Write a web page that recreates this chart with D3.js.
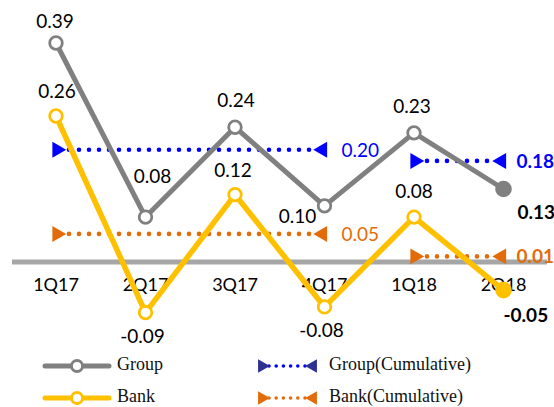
<!DOCTYPE html>
<html>
<head>
<meta charset="utf-8">
<script src="https://cdn.jsdelivr.net/npm/d3@7"></script>
<style>
  html, body { margin: 0; padding: 0; background: #fff; }
  svg { display: block; }
  .lbl { font-family: Lato, "Noto Sans", sans-serif; font-size: 19px; fill: #000; }
  .cat { font-family: Lato, "Noto Sans", sans-serif; font-size: 18px; fill: #000; }
  .leg { font-family: "Liberation Serif", "Times New Roman", serif; font-size: 18px; fill: #111; }
</style>
</head>
<body>
<svg id="chart" width="554" height="407"></svg>
<script>
// Quarterly values
const quarters = ["1Q17", "2Q17", "3Q17", "4Q17", "1Q18", "2Q18"];
const groupValues = [0.39, 0.08, 0.24, 0.10, 0.23, 0.13];
const bankValues = [0.26, -0.09, 0.12, -0.08, 0.08, -0.05];

// Cumulative averages: [from quarter, to quarter, value]
const groupCumulative = [["1Q17", "4Q17", 0.20], ["1Q18", "2Q18", 0.18]];
const bankCumulative = [["1Q17", "4Q17", 0.05], ["1Q18", "2Q18", 0.01]];

const legendLabels = ["Group", "Bank", "Group(Cumulative)", "Bank(Cumulative)"];

const COLORS = {
  group: "#808080",
  bank: "#ffc000",
  groupCum: "#0000ff",
  groupCumLegend: "#2e3192",
  bankCum: "#e36c0a",
  axis: "#a6a6a6"
};

const svg = d3.select("#chart");

const x = d3.scalePoint().domain(quarters).range([56, 503.5]);
const y = d3.scaleLinear().domain([0, 0.39]).range([262, 43]);

// Zero baseline
svg.append("line")
  .attr("x1", 12).attr("x2", 547)
  .attr("y1", y(0)).attr("y2", y(0))
  .attr("stroke", COLORS.axis).attr("stroke-width", 5);

// Category labels
svg.append("g").selectAll("text")
  .data(quarters)
  .join("text")
  .attr("class", "cat")
  .attr("x", d => x(d))
  .attr("y", 291)
  .attr("text-anchor", "middle")
  .text(d => d);

const tri = (size) => d3.symbol().type(d3.symbolTriangle).size(size)();

// Cumulative dotted segments with triangle ends
function drawCumulative(data, color, labelColor, boldLast) {
  const g = svg.append("g");
  data.forEach((seg, i) => {
    const x1 = x(seg[0]), x2 = x(seg[1]), yy = y(seg[2]);
    g.append("line")
      .attr("x1", x1 + 13).attr("x2", x2 - 10)
      .attr("y1", yy).attr("y2", yy)
      .attr("stroke", color)
      .attr("stroke-width", 4.6)
      .attr("stroke-linecap", "round")
      .attr("stroke-dasharray", "0,10");
    g.append("path")
      .attr("d", tri(110))
      .attr("transform", `translate(${x1 + 1},${yy}) rotate(90)`)
      .attr("fill", color);
    g.append("path")
      .attr("d", tri(110))
      .attr("transform", `translate(${x2 - 2},${yy}) rotate(-90)`)
      .attr("fill", color);
    const last = i === data.length - 1;
    g.append("text")
      .attr("class", "lbl")
      .attr("x", last ? x2 + 13 : x2 + 17)
      .attr("y", yy + 7)
      .style("fill", labelColor)
      .attr("font-weight", last && boldLast ? "bold" : null)
      .text(seg[2].toFixed(2));
  });
}

drawCumulative(groupCumulative, COLORS.groupCum, COLORS.groupCum, true);
drawCumulative(bankCumulative, COLORS.bankCum, COLORS.bankCum, true);

// Lines
const line = d3.line().x((d, i) => x(quarters[i])).y(d => y(d));

function drawSeries(values, color, width) {
  const g = svg.append("g");
  g.append("path")
    .attr("d", line(values))
    .attr("fill", "none")
    .attr("stroke", color)
    .attr("stroke-width", width)
    .attr("stroke-linejoin", "round");
  g.selectAll("circle")
    .data(values)
    .join("circle")
    .attr("cx", (d, i) => x(quarters[i]))
    .attr("cy", d => y(d))
    .attr("r", (d, i) => i === values.length - 1 ? 8.3 : 6.3)
    .attr("fill", (d, i) => i === values.length - 1 ? color : "#fff")
    .attr("stroke", color)
    .attr("stroke-width", (d, i) => i === values.length - 1 ? 0 : 2.8);
}

drawSeries(groupValues, COLORS.group, 5);
drawSeries(bankValues, COLORS.bank, 5.5);

// Point labels: offsets from each point [dx, dy, anchor]
const groupLabelOffsets = [[-1, -15, "middle"], [7, -34, "middle"], [1, -20, "middle"], [-27, 17, "middle"], [-2, -20, "middle"], [14, 30, "start"]];
const bankLabelOffsets = [[1, -18, "middle"], [-3, 30, "middle"], [-2, -18, "middle"], [-3, 30, "middle"], [0, -19, "middle"], [0, 32, "start"]];

function drawLabels(values, offsets) {
  svg.append("g").selectAll("text")
    .data(values)
    .join("text")
    .attr("class", "lbl")
    .attr("x", (d, i) => x(quarters[i]) + offsets[i][0])
    .attr("y", (d, i) => y(d) + offsets[i][1])
    .attr("text-anchor", (d, i) => offsets[i][2])
    .attr("font-weight", (d, i) => i === values.length - 1 ? "bold" : null)
    .text(d => d.toFixed(2));
}

drawLabels(groupValues, groupLabelOffsets);
drawLabels(bankValues, bankLabelOffsets);

// Legend
const leg = svg.append("g");
const rowY = [366, 398];
[[COLORS.group, rowY[0]], [COLORS.bank, rowY[1]]].forEach((p, i) => {
  leg.append("line")
    .attr("x1", 45).attr("x2", 109)
    .attr("y1", p[1]).attr("y2", p[1])
    .attr("stroke", p[0]).attr("stroke-width", 5)
    .attr("stroke-linecap", "round");
  leg.append("circle")
    .attr("cx", 77).attr("cy", p[1]).attr("r", 5.5)
    .attr("fill", "#fff").attr("stroke", p[0]).attr("stroke-width", 2.8);
  leg.append("text").attr("class", "leg")
    .attr("x", 117).attr("y", p[1] + 4)
    .text(legendLabels[i]);
});
[[COLORS.groupCumLegend, COLORS.groupCum, rowY[0]], [COLORS.bankCum, COLORS.bankCum, rowY[1]]].forEach((p, i) => {
  leg.append("line")
    .attr("x1", 269).attr("x2", 305)
    .attr("y1", p[2]).attr("y2", p[2])
    .attr("stroke", p[1]).attr("stroke-width", 3.6)
    .attr("stroke-linecap", "round")
    .attr("stroke-dasharray", "0,7.2");
  leg.append("path")
    .attr("d", tri(80))
    .attr("transform", `translate(${262},${p[2]}) rotate(90)`)
    .attr("fill", p[0]);
  leg.append("path")
    .attr("d", tri(80))
    .attr("transform", `translate(${313},${p[2]}) rotate(-90)`)
    .attr("fill", p[0]);
  leg.append("text").attr("class", "leg")
    .attr("x", 329).attr("y", p[2] + 4)
    .text(legendLabels[i + 2]);
});
</script>
</body>
</html>
